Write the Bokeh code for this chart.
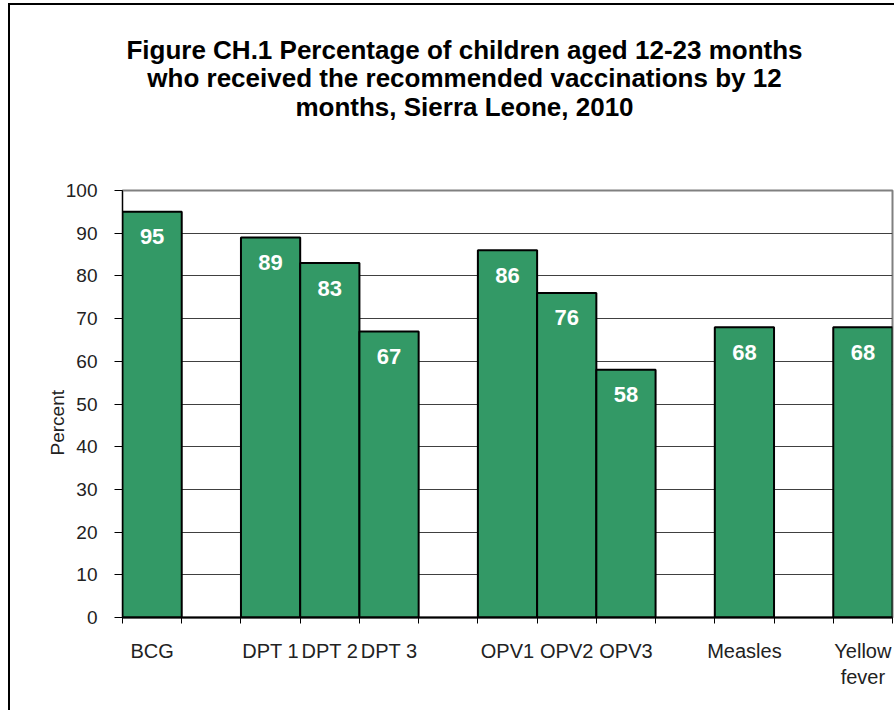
from bokeh.plotting import figure
from bokeh.layouts import column
from bokeh.models import FixedTicker, Range1d, Title
from bokeh.core.properties import value
from bokeh.embed import file_html
from bokeh.resources import INLINE

# ---- data ----
title_lines = [
    "Figure CH.1 Percentage of children aged 12-23 months",
    "who received the recommended vaccinations by 12",
    "months, Sierra Leone, 2010",
]
categories = ["BCG", "", "DPT 1", "DPT 2", "DPT 3", "", "OPV1", "OPV2", "OPV3",
              "", "Measles", "", "Yellow\nfever"]
values = [95, None, 89, 83, 67, None, 86, 76, 58, None, 68, None, 68]
y_ticks = [0, 10, 20, 30, 40, 50, 60, 70, 80, 90, 100]
y_label = "Percent"

# ---- derived ----
n = len(categories)
xs = [i + 0.5 for i, v in enumerate(values) if v is not None]
vs = [v for v in values if v is not None]
val_text = [str(v) for v in vs]
label_ticks = [i + 0.5 for i, c in enumerate(categories) if c]
overrides = {i + 0.5: c for i, c in enumerate(categories) if c}

FONT = "Liberation Sans"
W = 884
HT = 130           # title strip height
H = 575            # chart height
L, R, T, B = 112, 2, 55, 93
FW = W - L - R     # frame width (frames are aligned in the column)

# ---- title strip ----
t = figure(width=W, height=HT, x_range=Range1d(0, FW), y_range=Range1d(HT, 0),
           output_backend="svg", toolbar_location=None,
           x_axis_location=None, y_axis_location=None,
           min_border_left=L, min_border_right=R, min_border_top=0, min_border_bottom=0)
t.outline_line_color = None
t.xgrid.grid_line_color = None
t.ygrid.grid_line_color = None
t.background_fill_color = "white"
t.border_fill_color = "white"
title_x = [454 - L] * 3
title_y = [44, 72.5, 101]
t.text(x=title_x, y=title_y, text=title_lines, text_align="center",
       text_baseline="alphabetic", text_font=value(FONT), text_font_style="bold",
       text_font_size="26px", text_color="black")

# ---- chart ----
p = figure(width=W, height=H, x_range=Range1d(0, n), y_range=Range1d(0, 100),
           output_backend="svg", toolbar_location=None,
           min_border_left=L, min_border_right=R, min_border_top=T, min_border_bottom=B)
p.background_fill_color = "white"
p.border_fill_color = "white"
p.outline_line_color = "#808080"
p.outline_line_width = 2

p.vbar(x=xs, top=vs, bottom=0, width=1, fill_color="#339966",
       line_color="black", line_width=2)
p.text(x=xs, y=vs, text=val_text, text_align="center", text_baseline="middle",
       y_offset=25, text_color="white", text_font=value(FONT),
       text_font_style="bold", text_font_size="22px")

# y axis
p.yaxis.ticker = FixedTicker(ticks=y_ticks)
p.yaxis.major_tick_out = 8
p.yaxis.major_tick_in = 0
p.yaxis.minor_tick_out = 0
p.yaxis.minor_tick_in = 0
p.yaxis.major_label_standoff = 17
p.yaxis.major_label_text_font = FONT
p.yaxis.major_label_text_font_size = "19px"
p.yaxis.major_label_text_color = "#222222"
p.yaxis.axis_line_color = "black"
p.yaxis.major_tick_line_color = "black"

# y axis title (placed in the left panel, beside the tick labels)
p.add_layout(Title(text=y_label, align="left", offset=162, vertical_align="bottom",
                   standoff=-10, text_font=FONT, text_font_size="19px",
                   text_font_style="normal", text_color="#222222"), "left")

# x axis
p.xaxis.ticker = FixedTicker(ticks=label_ticks, minor_ticks=list(range(n + 1)))
p.xaxis.major_label_overrides = overrides
p.xaxis.major_tick_out = 0
p.xaxis.major_tick_in = 0
p.xaxis.minor_tick_out = 6
p.xaxis.minor_tick_in = 0
p.xaxis.minor_tick_line_color = "black"
p.xaxis.axis_line_color = "black"
p.xaxis.axis_line_width = 2
p.xaxis.major_label_standoff = 16
p.xaxis.major_label_text_font = FONT
p.xaxis.major_label_text_font_size = "20px"
p.xaxis.major_label_text_color = "#222222"

p.xgrid.grid_line_color = None
p.ygrid.ticker = FixedTicker(ticks=y_ticks)
p.ygrid.grid_line_color = "#404040"
p.ygrid.grid_line_width = 1

layout = column(t, p, spacing=0)
layout.styles = {"margin-left": "8px", "margin-top": "3px",
                 "border-left": "2px solid black", "border-top": "2px solid black"}

open("out.html", "w").write(file_html(layout, INLINE))
